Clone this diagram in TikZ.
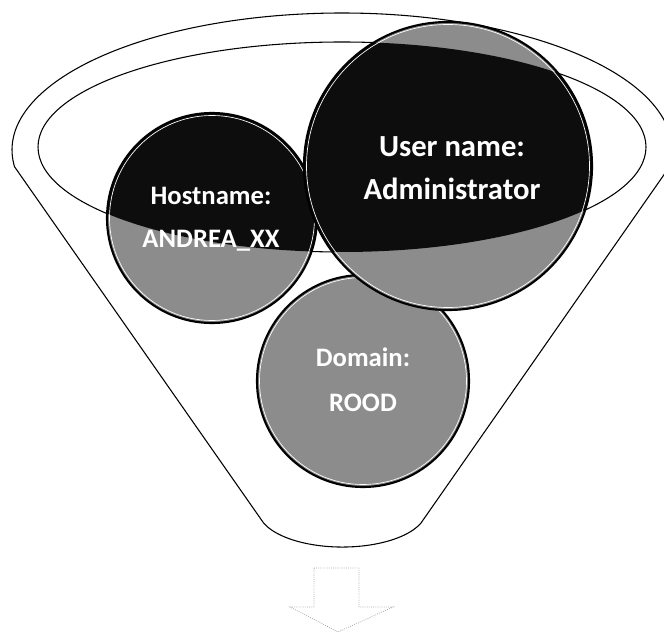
\documentclass[tikz,border=0pt]{standalone}
\usepackage{fontspec}
\setmainfont{Carlito}
\definecolor{bubblegrey}{gray}{0.55}
\definecolor{bubbledark}{gray}{0.05}
\tikzset{
    funnelline/.style={draw=black, line width=0.8pt},
    ring/.style={draw=black, line width=1.6pt},
    arrowline/.style={draw=black!35, line width=0.6pt, densely dotted},
    bubbletext/.style={text=white, font=\bfseries\fontsize{20}{32}\selectfont, align=center},
}
\begin{document}
\begin{tikzpicture}[x=0.75pt, y=-0.75pt]
    \clip (0,0) rectangle (664,634);

    \draw[funnelline, fill=white] (263.6,523) -- (14.5,166.7)
        arc[start angle=173, end angle=367, x radius=330, y radius=137]
        -- (421,523) arc[start angle=20.5, end angle=159.5, x radius=84, y radius=37] -- cycle;
    \draw[funnelline] (342,147) ellipse[x radius=304, y radius=105];

    \foreach \cx/\cy/\r in {363/381/106, 212/218/105, 448/166/144} {
        \fill[bubblegrey] (\cx,\cy) circle[radius=\r];
        \begin{scope}
            \clip (342,147) ellipse[x radius=304, y radius=105];
            \fill[bubbledark] (\cx,\cy) circle[radius=\r];
        \end{scope}
        \draw[ring] (\cx,\cy) circle[radius=\r];
        \draw[white, line width=0.5pt] (\cx,\cy) circle[radius=\r-2.5];
    }

    \node[bubbletext, font=\bfseries\fontsize{20}{34}\selectfont] (domain) at (363,380) {Domain:\\ROOD};
    \node[bubbletext] (host) at (211,219) {Hostname:\\ANDREA\_XX};
    \node[bubbletext, font=\bfseries\fontsize{23}{32}\selectfont] (user) at (452,168) {User name:\\Administrator};

    \draw[arrowline] (314,568) -- (359,568) -- (359,607) -- (393,607) -- (338,632)
        -- (290,607) -- (314,607) -- cycle;
\end{tikzpicture}
\end{document}
